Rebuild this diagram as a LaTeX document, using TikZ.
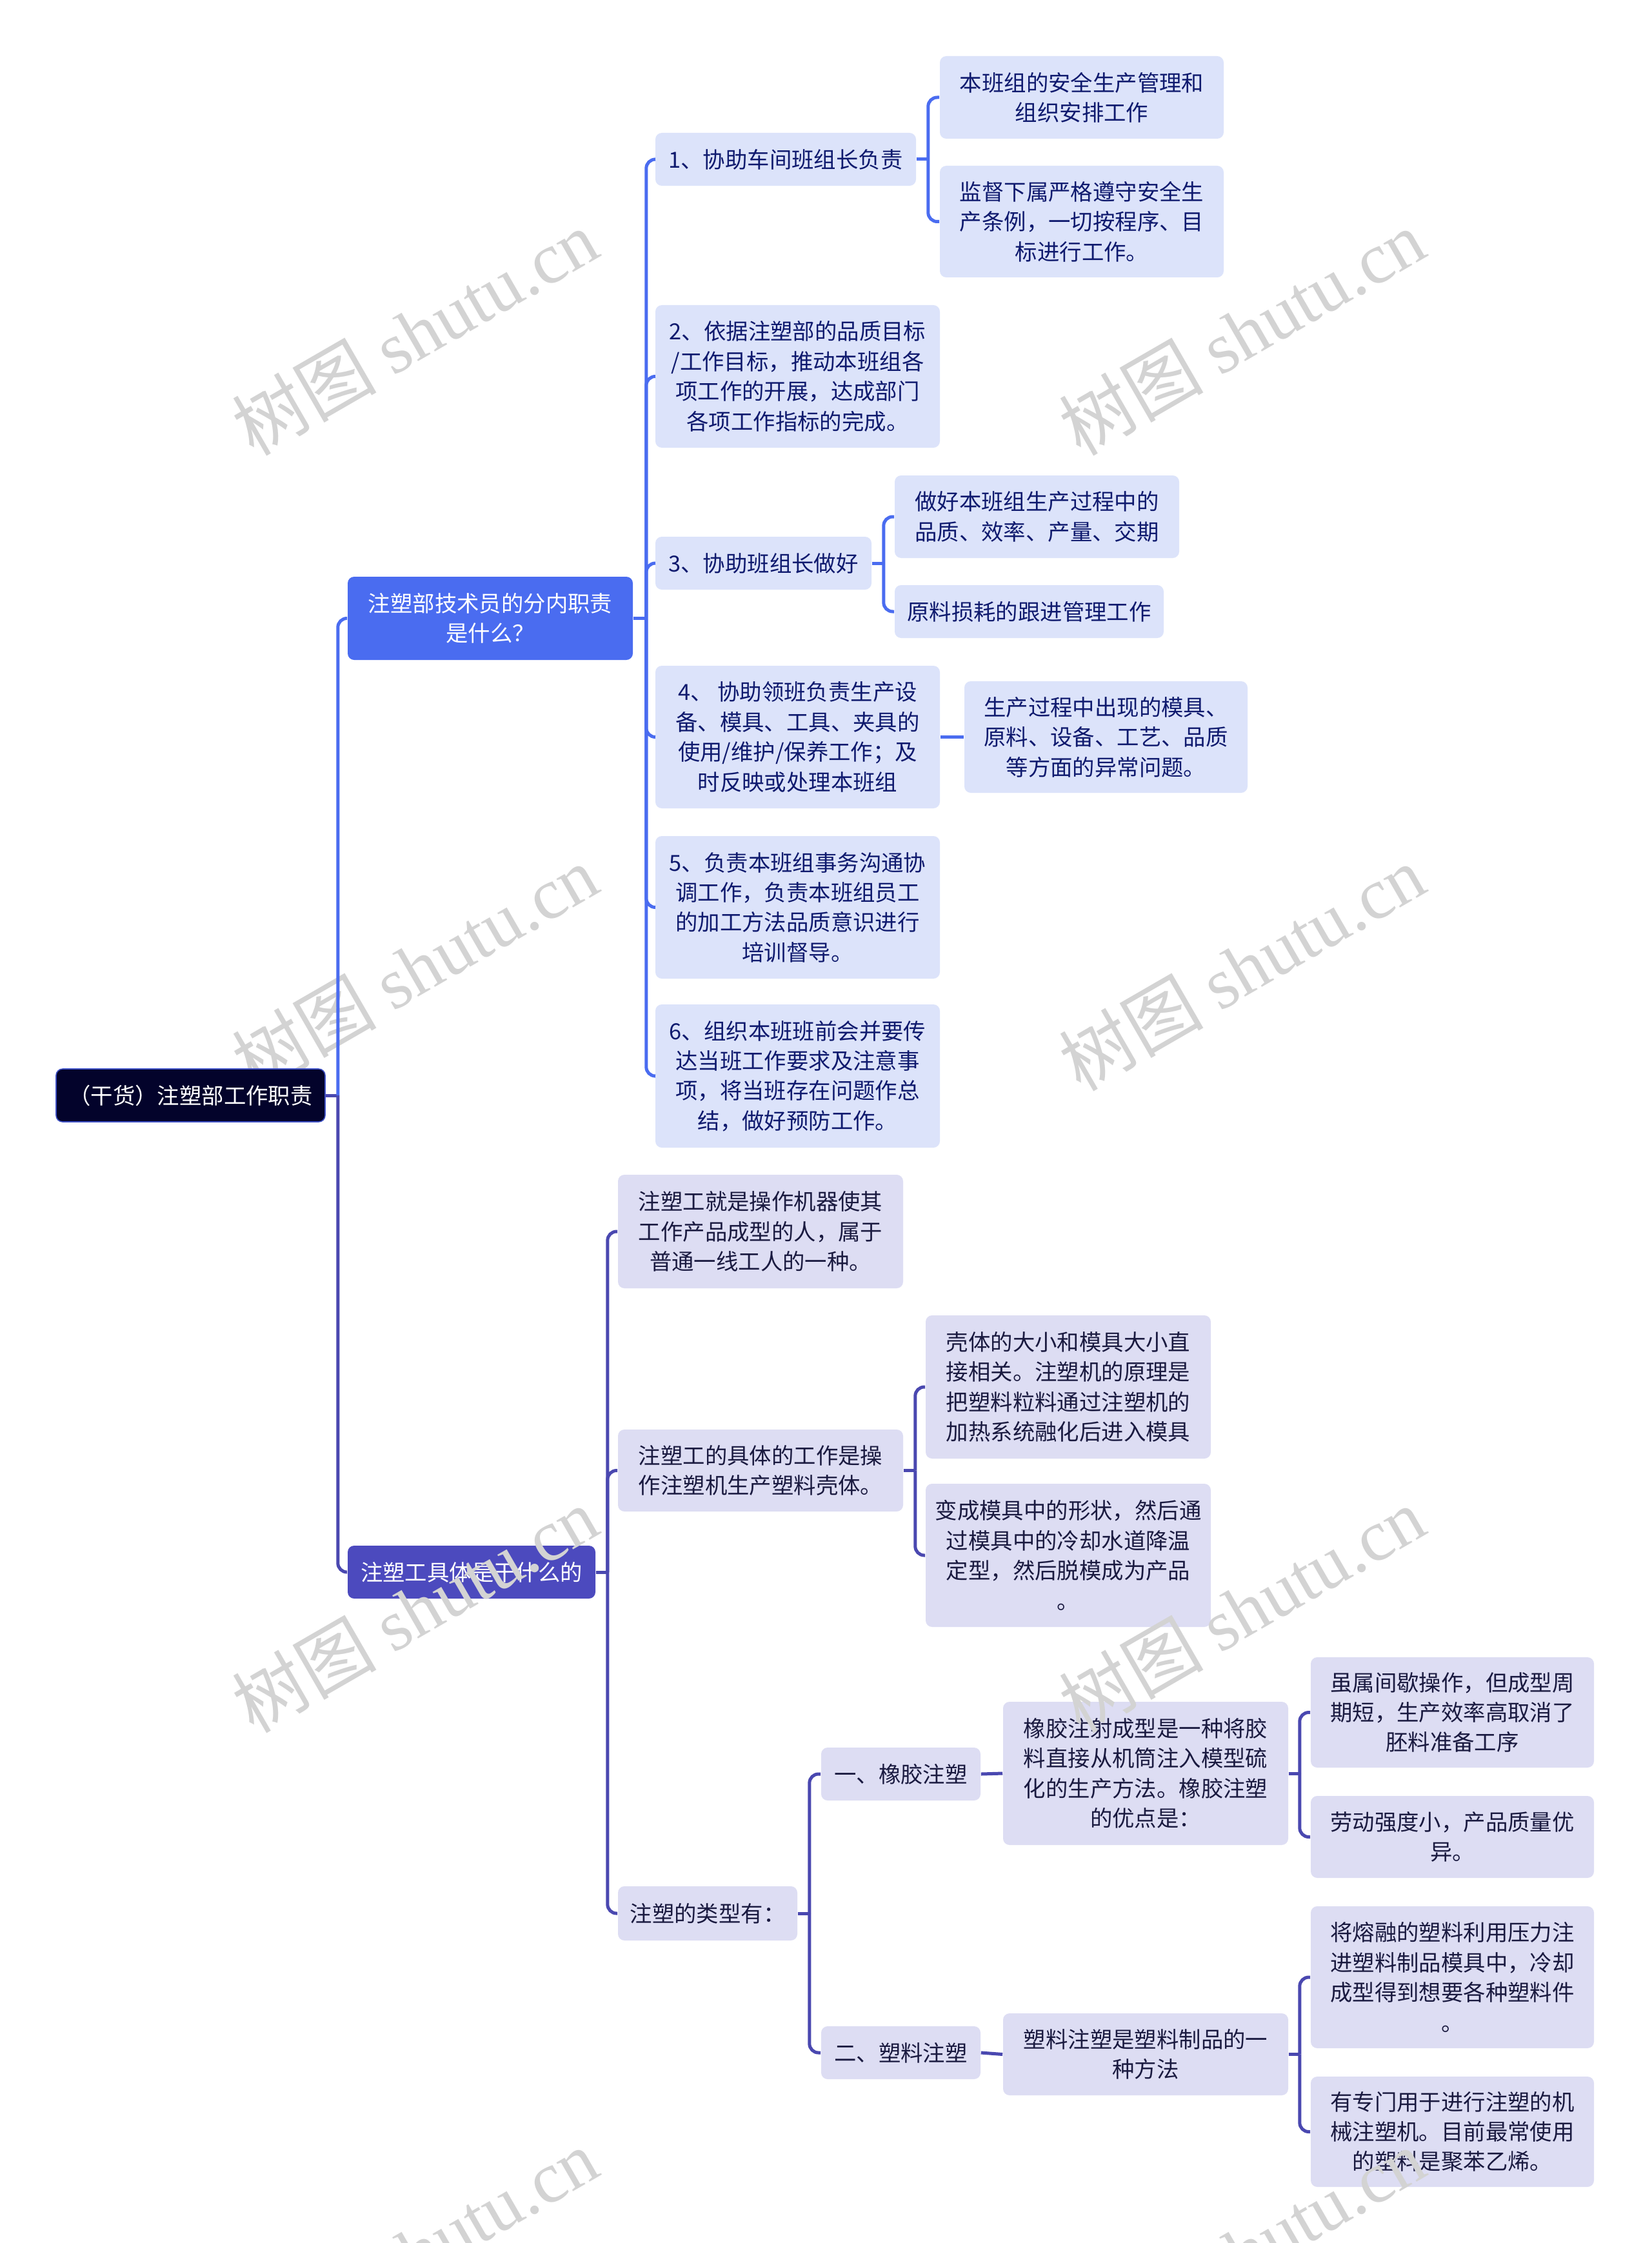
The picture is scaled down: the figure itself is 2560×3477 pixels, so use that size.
\documentclass[tikz,border=0pt]{standalone}
\usepackage{fontspec}
\newfontfamily\cjk{Noto Sans CJK SC}
\newfontfamily\wmserif{Liberation Serif}
\usetikzlibrary{calc}
\definecolor{rootfill}{HTML}{03032B}
\definecolor{rootborder}{HTML}{3D4FC4}
\definecolor{afill}{HTML}{4A6CF0}
\definecolor{bfill}{HTML}{4C4ABE}
\definecolor{upfill}{HTML}{DCE3FA}
\definecolor{lowfill}{HTML}{DDDDF3}
\definecolor{uptext}{HTML}{0F1A6E}
\definecolor{lowtext}{HTML}{1A1A40}
\definecolor{upcol}{HTML}{4A6CF0}
\definecolor{lowcol}{HTML}{4A48B0}
\definecolor{wmgray}{HTML}{D3D3D3}
\newcommand\mybox[7]{\node[#6, minimum width={(#4-#2)*0.25pt}, minimum height={(#5-#3)*0.25pt}] (#1) at ({(#2+#4)/2},{(#3+#5)/2}) {#7};}
\begin{document}
\begin{tikzpicture}[x=0.25pt,y=-0.25pt,
  base/.style={rounded corners=2.5pt, inner sep=0pt, align=center, font=\cjk\fontsize{8.6pt}{11.6pt}\selectfont},
  rootbox/.style={base, fill=rootfill, draw=rootborder, line width=0.4pt, text=white},
  abox/.style={base, fill=afill, text=white},
  bbox/.style={base, fill=bfill, text=white},
  upbox/.style={base, fill=upfill, text=uptext},
  lowbox/.style={base, fill=lowfill, text=lowtext},
  upl/.style={draw=upcol, line width=1.25pt},
  lowl/.style={draw=lowcol, line width=1.25pt},
  rc/.style={rounded corners=3.5pt},
  wm/.style={text=wmgray, rotate=30, font=\cjk\fontsize{28pt}{28pt}\selectfont}]
\useasboundingbox (0,0) rectangle (2560,3477);
\fill[white] (0,0) rectangle (2560,3477);

% watermarks under the root box
\node[wm] (wm3) at (643,1500) {树图 {\wmserif shutu.cn}};

% nodes
\mybox{root}{87}{1657}{504}{1739}{rootbox}{（干货）注塑部工作职责}
\mybox{A}{539}{894}{981}{1023}{abox}{注塑部技术员的分内职责\\是什么？}
\mybox{B}{539}{2396}{923}{2478}{bbox}{注塑工具体是干什么的}

\mybox{A1}{1016}{206}{1420}{288}{upbox}{1、协助车间班组长负责}
\mybox{A2}{1016}{473}{1457}{694}{upbox}{2、依据注塑部的品质目标\\/工作目标，推动本班组各\\项工作的开展，达成部门\\各项工作指标的完成。}
\mybox{A3}{1016}{832}{1351}{914}{upbox}{3、协助班组长做好}
\mybox{A4}{1016}{1032}{1457}{1253}{upbox}{4、 协助领班负责生产设\\备、模具、工具、夹具的\\使用/维护/保养工作；及\\时反映或处理本班组}
\mybox{A5}{1016}{1296}{1457}{1517}{upbox}{5、负责本班组事务沟通协\\调工作，负责本班组员工\\的加工方法品质意识进行\\培训督导。}
\mybox{A6}{1016}{1557}{1457}{1779}{upbox}{6、组织本班班前会并要传\\达当班工作要求及注意事\\项，将当班存在问题作总\\结，做好预防工作。}

\mybox{A1a}{1457}{87}{1897}{215}{upbox}{本班组的安全生产管理和\\组织安排工作}
\mybox{A1b}{1457}{257}{1897}{430}{upbox}{监督下属严格遵守安全生\\产条例，一切按程序、目\\标进行工作。}
\mybox{A3a}{1387}{737}{1828}{865}{upbox}{做好本班组生产过程中的\\品质、效率、产量、交期}
\mybox{A3b}{1387}{907}{1804}{989}{upbox}{原料损耗的跟进管理工作}
\mybox{A4a}{1495}{1056}{1934}{1229}{upbox}{生产过程中出现的模具、\\原料、设备、工艺、品质\\等方面的异常问题。}

\mybox{B1}{958}{1821}{1400}{1997}{lowbox}{注塑工就是操作机器使其\\工作产品成型的人，属于\\普通一线工人的一种。}
\mybox{B2}{958}{2216}{1400}{2343}{lowbox}{注塑工的具体的工作是操\\作注塑机生产塑料壳体。}
\mybox{B3}{958}{2924}{1236}{3008}{lowbox}{注塑的类型有：}
\mybox{B2a}{1435}{2039}{1877}{2261}{lowbox}{壳体的大小和模具大小直\\接相关。注塑机的原理是\\把塑料粒料通过注塑机的\\加热系统融化后进入模具}
\mybox{B2b}{1435}{2300}{1877}{2522}{lowbox}{变成模具中的形状，然后通\\过模具中的冷却水道降温\\定型，然后脱模成为产品\\。}
\mybox{B3a}{1273}{2709}{1520}{2791}{lowbox}{一、橡胶注塑}
\mybox{B3b}{1273}{3141}{1520}{3223}{lowbox}{二、塑料注塑}
\mybox{B3ac}{1555}{2638}{1997}{2860}{lowbox}{橡胶注射成型是一种将胶\\料直接从机筒注入模型硫\\化的生产方法。橡胶注塑\\的优点是：}
\mybox{B3bc}{1555}{3121}{1997}{3248}{lowbox}{塑料注塑是塑料制品的一\\种方法}
\mybox{G1}{2032}{2569}{2471}{2740}{lowbox}{虽属间歇操作，但成型周\\期短，生产效率高取消了\\胚料准备工序}
\mybox{G2}{2032}{2784}{2471}{2911}{lowbox}{劳动强度小，产品质量优\\异。}
\mybox{G3}{2032}{2955}{2471}{3175}{lowbox}{将熔融的塑料利用压力注\\进塑料制品模具中，冷却\\成型得到想要各种塑料件\\。}
\mybox{G4}{2032}{3219}{2471}{3390}{lowbox}{有专门用于进行注塑的机\\械注塑机。目前最常使用\\的塑料是聚苯乙烯。}

% junctions
\coordinate (jR) at ($(root.east)+(19,0)$);
\coordinate (jA) at ($(A.east)+(20,0)$);
\coordinate (jA1) at ($(A1.east)+(18,0)$);
\coordinate (jA3) at ($(A3.east)+(18,0)$);
\coordinate (jB) at ($(B.east)+(18,0)$);
\coordinate (jB2) at ($(B2.east)+(18,0)$);
\coordinate (jB3) at ($(B3.east)+(18,0)$);
\coordinate (jB3ac) at ($(B3ac.east)+(17,0)$);
\coordinate (jB3bc) at ($(B3bc.east)+(17,0)$);

% connectors
\draw[lowl] (root.east) -- (jR);
\draw[upl,rc] (jR) |- (A.west);
\draw[lowl,rc] (jR) |- (B.west);

\draw[upl] (A.east) -- (jA);
\foreach \c in {A1,A2,A3,A4,A5,A6} \draw[upl,rc] (jA) |- (\c.west);
\draw[upl] (A1.east) -- (jA1);
\foreach \c in {A1a,A1b} \draw[upl,rc] (jA1) |- (\c.west);
\draw[upl] (A3.east) -- (jA3);
\foreach \c in {A3a,A3b} \draw[upl,rc] (jA3) |- (\c.west);
\draw[upl] (A4.east) -- (A4a.west);

\draw[lowl] (B.east) -- (jB);
\foreach \c in {B1,B2,B3} \draw[lowl,rc] (jB) |- (\c.west);
\draw[lowl] (B2.east) -- (jB2);
\foreach \c in {B2a,B2b} \draw[lowl,rc] (jB2) |- (\c.west);
\draw[lowl] (B3.east) -- (jB3);
\foreach \c in {B3a,B3b} \draw[lowl,rc] (jB3) |- (\c.west);
\draw[lowl] (B3a.east) -- (B3ac.west);
\draw[lowl] (B3b.east) -- (B3bc.west);
\draw[lowl] (B3ac.east) -- (jB3ac);
\foreach \c in {G1,G2} \draw[lowl,rc] (jB3ac) |- (\c.west);
\draw[lowl] (B3bc.east) -- (jB3bc);
\foreach \c in {G3,G4} \draw[lowl,rc] (jB3bc) |- (\c.west);

% watermarks on top
\foreach \wx/\wy/\i in {643/515/1,1925/515/2,1925/1500/4,643/2495/5,1925/2495/6,643/3490/7,1925/3490/8}
  \node[wm] (wm\i) at (\wx,\wy) {树图 {\wmserif shutu.cn}};
\end{tikzpicture}
\end{document}
